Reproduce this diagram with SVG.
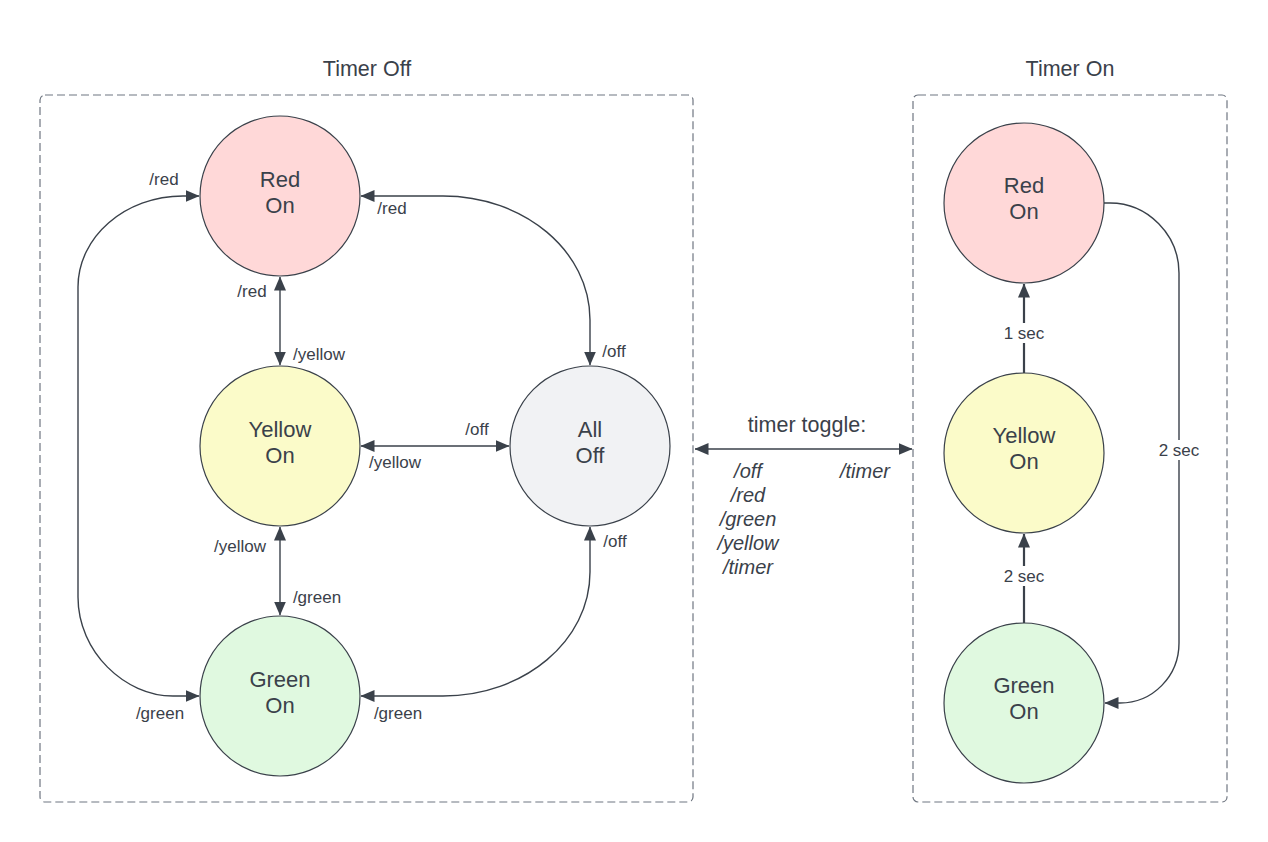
<svg xmlns="http://www.w3.org/2000/svg" width="1268" height="842" viewBox="0 0 1268 842">
<style>
text{font-family:"Liberation Sans",Arial,sans-serif;fill:#3a414a}
.title{font-size:21.5px;text-anchor:middle}
.node{font-size:22px;text-anchor:middle}
.lbl{font-size:17px;text-anchor:middle}
.it{font-size:20px;font-style:italic;text-anchor:middle}
.box{fill:none;stroke:#6f7681;stroke-width:1.2;stroke-dasharray:8 4}
.c{stroke:#3a414a;stroke-width:1.2}
.red{fill:#ffd8d8}.yel{fill:#fbfbc9}.grn{fill:#e0f9e0}.gry{fill:#f1f2f4}
.e{fill:none;stroke:#3a414a;stroke-width:1.4}
.e2{fill:none;stroke:#3a414a;stroke-width:2.2}
.both{marker-start:url(#ah);marker-end:url(#ah)}
.end{marker-end:url(#ah)}
</style>
<defs>
<marker id="ah" viewBox="0 0 14 12" refX="13.5" refY="6" markerWidth="14" markerHeight="12" markerUnits="userSpaceOnUse" orient="auto-start-reverse">
<path d="M0,0 L14,6 L0,12 Z" fill="#3a414a"/>
</marker>
</defs>
<rect width="1268" height="842" fill="#ffffff"/>

<g id="timer-off">
<rect class="box" x="40" y="95" width="653" height="707" rx="5"/>
<text class="title" x="367" y="76">Timer Off</text>
</g>
<g id="timer-on">
<rect class="box" x="913" y="95" width="314" height="707" rx="5"/>
<text class="title" x="1070" y="76">Timer On</text>
</g>

<g id="connectors">
<path class="e both" d="M280,277 L280,365"/>
<path class="e both" d="M280,527 L280,615"/>
<path class="e both" d="M361,446 L509,446"/>
<path class="e both" d="M361,196 L443,196 C524,196 590,251 590,320 L590,365"/>
<path class="e both" d="M590,527 L590,572 C590,641 524,696 443,696 L361,696"/>
<path class="e both" d="M199,196 L183,196 C125,196 78,237 78,287 L78,597 C78,652 125,696 173,696 L199,696"/>
<path class="e both" d="M695,449 L912,449"/>
<path class="e2 end" d="M1024,373 L1024,284"/>
<path class="e2 end" d="M1024,623 L1024,534"/>
<path class="e end" d="M1104,203 L1110,203 C1148,203 1179,235 1179,273 L1179,643 C1179,676 1153,703 1120,703 L1105,703"/>

<text class="lbl" x="164" y="185">/red</text>
<text class="lbl" x="392" y="214">/red</text>
<text class="lbl" x="252" y="297">/red</text>
<text class="lbl" x="319" y="360">/yellow</text>
<text class="lbl" x="614" y="357">/off</text>
<text class="lbl" x="477" y="435">/off</text>
<text class="lbl" x="395" y="468">/yellow</text>
<text class="lbl" x="240" y="552">/yellow</text>
<text class="lbl" x="317" y="603">/green</text>
<text class="lbl" x="615" y="547">/off</text>
<text class="lbl" x="160" y="719">/green</text>
<text class="lbl" x="398" y="719">/green</text>

<text class="title" x="807" y="432">timer toggle:</text>
<text class="it" x="748" y="478">/off</text>
<text class="it" x="748" y="502">/red</text>
<text class="it" x="748" y="526">/green</text>
<text class="it" x="748" y="550">/yellow</text>
<text class="it" x="748" y="574">/timer</text>
<text class="it" x="865" y="478">/timer</text>

<rect x="1002" y="323" width="44" height="20" fill="#ffffff"/>
<text class="lbl" x="1024" y="339">1 sec</text>
<rect x="1002" y="566" width="44" height="20" fill="#ffffff"/>
<text class="lbl" x="1024" y="582">2 sec</text>
<rect x="1157" y="440" width="44" height="20" fill="#ffffff"/>
<text class="lbl" x="1179" y="456">2 sec</text>
</g>

<g id="off-red">
<circle class="c red" cx="280" cy="196" r="80"/>
<text class="node" x="280" y="187">Red</text>
<text class="node" x="280" y="213">On</text>
</g>
<g id="off-yellow">
<circle class="c yel" cx="280" cy="446" r="80"/>
<text class="node" x="280" y="437">Yellow</text>
<text class="node" x="280" y="463">On</text>
</g>
<g id="off-green">
<circle class="c grn" cx="280" cy="696" r="80"/>
<text class="node" x="280" y="687">Green</text>
<text class="node" x="280" y="713">On</text>
</g>
<g id="all-off">
<circle class="c gry" cx="590" cy="446" r="80"/>
<text class="node" x="590" y="437">All</text>
<text class="node" x="590" y="463">Off</text>
</g>
<g id="on-red">
<circle class="c red" cx="1024" cy="203" r="80"/>
<text class="node" x="1024" y="193">Red</text>
<text class="node" x="1024" y="219">On</text>
</g>
<g id="on-yellow">
<circle class="c yel" cx="1024" cy="453" r="80"/>
<text class="node" x="1024" y="443">Yellow</text>
<text class="node" x="1024" y="469">On</text>
</g>
<g id="on-green">
<circle class="c grn" cx="1024" cy="703" r="80"/>
<text class="node" x="1024" y="693">Green</text>
<text class="node" x="1024" y="719">On</text>
</g>
</svg>
